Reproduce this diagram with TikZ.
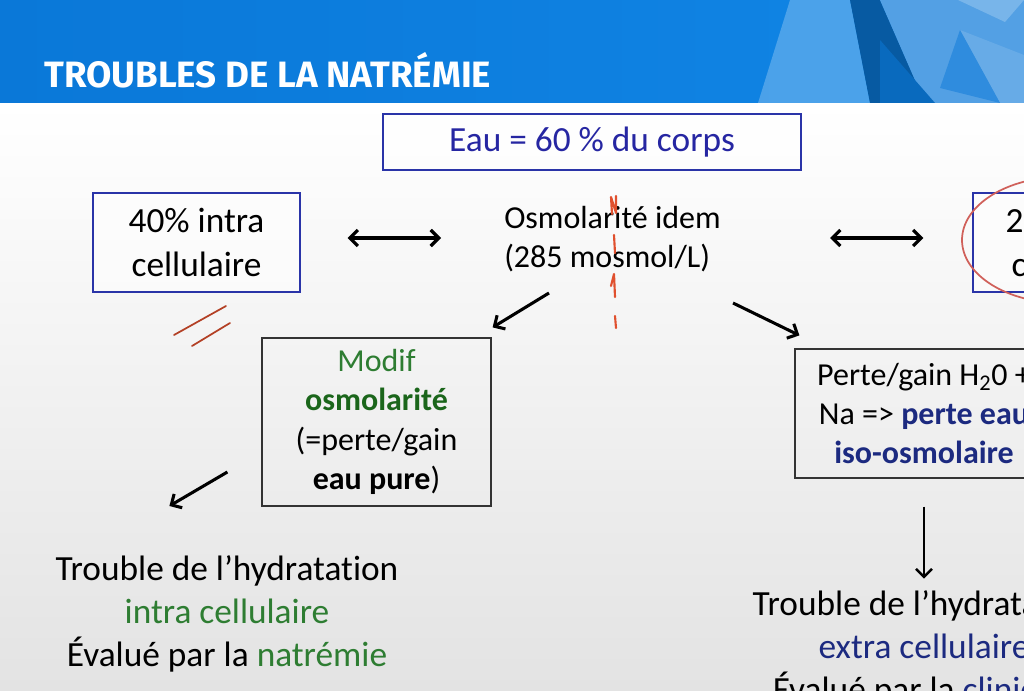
\documentclass[tikz,border=0pt]{standalone}
\usepackage{fontspec}
\setmainfont{Carlito}[Ligatures=NoCommon, Contextuals=NoAlternate]
\newfontfamily\titlefont{Fira Sans}
\usetikzlibrary{arrows.meta,calc,positioning}
\definecolor{headblue}{HTML}{0A78D8}
\definecolor{headblueR}{HTML}{1186E6}
\definecolor{boxblue}{HTML}{2A34A8}
\definecolor{eaublue}{HTML}{2626A2}
\definecolor{navy}{HTML}{1C2A80}
\definecolor{leafgreen}{HTML}{2E7D32}
\definecolor{darkgreen}{HTML}{1B661B}
\definecolor{markred}{HTML}{E0502E}
\definecolor{ovalred}{HTML}{D0605A}
\tikzset{
    bluebox/.style={
        draw=boxblue,
        line width=0.9pt,
        fill=white,
        fill opacity=0.5,
        text opacity=1,
        align=center,
        inner sep=0pt
    },
    greybox/.style={
        draw=black!80,
        line width=0.9pt,
        align=center,
        inner sep=0pt
    },
    plain/.style={
        align=center,
        inner sep=0pt
    },
    arr/.style={
        line width=2.3pt,
        -{Straight Barb[length=6pt, width=12pt]}
    },
    dblarr/.style={
        line width=2.4pt,
        {Straight Barb[length=6pt, width=12pt]}-{Straight Barb[length=6pt, width=12pt]}
    },
    redmark/.style={
        draw=markred,
        line width=1.6pt,
        line cap=round,
        line join=round
    }
}
\newcommand{\bigtxt}{\fontsize{26.5}{32.5}\selectfont}
\newcommand{\midtxt}{\fontsize{24}{29.5}\selectfont}

\begin{document}
\begin{tikzpicture}[x=0.75pt, y=-0.75pt]
    \useasboundingbox (0,0) rectangle (1024,691);
    \clip (0,0) rectangle (1024,691);

    % slide background
    \shade[top color=white, bottom color=black!11] (0,103) rectangle (1024,691);
    \fill[white] (0,103) rectangle (1024,107);
    \shade[left color=headblue, right color=headblueR] (0,0) rectangle (1024,103);
    \fill[white, opacity=0.25] (790,0) -- (850,0) -- (870,103) -- (758,103) -- cycle;
    \fill[black!25!headblue] (850,0) -- (880,0) -- (925,103) -- (870,103) -- cycle;
    \fill[white!30!headblue] (880,0) -- (1024,0) -- (1024,103) -- (925,103) -- cycle;
    \fill[black!12!headblue] (880,40) -- (935,103) -- (880,103) -- cycle;
    \fill[white!45!headblue] (958,0) -- (1005,22) -- (1024,0) -- cycle;
    \fill[white!38!headblue] (960,30) -- (1024,55) -- (1024,103) -- (1000,103) -- cycle;
    \fill[white!15!headblue] (960,30) -- (940,88) -- (1000,103) -- cycle;
    \node[plain, anchor=west, text=white, font=\titlefont\bfseries\fontsize{27.5}{32}\selectfont] (title) at (44,70) {TROUBLES DE LA NATRÉMIE};

    % boxes
    \node[bluebox, minimum width=313.5pt, minimum height=42pt, text=eaublue, font=\bigtxt] (eau) at (592,142) {Eau = 60 \% du corps};
    \node[bluebox, minimum width=155.25pt, minimum height=74.25pt, font=\bigtxt] (intra) at (196.5,242.5) {40\% intra\\cellulaire};
    \node[plain, align=left, anchor=west, font=\midtxt] (osmo) at (504,239) {Osmolarité idem\\(285 mosmol/L)};
    \node[bluebox, minimum width=155.25pt, minimum height=74.25pt, font=\bigtxt] (extra) at (1076.5,242.5) {20\% extra\\cellulaire};
    \node[greybox, minimum width=171.75pt, minimum height=126pt, font=\midtxt] (modif) at (376.5,422) {\textcolor{leafgreen}{Modif}\\\textcolor{darkgreen}{\bfseries osmolarité}\\(=perte/gain\\\textbf{eau pure})};
    \node[greybox, minimum width=193.5pt, minimum height=96.75pt, font=\midtxt] (perte) at (924,413.5) {Perte/gain H\textsubscript{2}0 +\\Na => \textcolor{navy}{\bfseries perte eau}\\\textcolor{navy}{\bfseries iso-osmolaire}};

    % conclusions
    \node[plain, font=\bigtxt] (ic) at (227,614) {Trouble de l’hydratation\\\textcolor{leafgreen}{intra cellulaire}\\Évalué par la \textcolor{leafgreen}{natrémie}};
    \node[plain, font=\bigtxt] (ec) at (924,649) {Trouble de l’hydratation\\\textcolor{navy}{extra cellulaire}\\Évalué par la \textcolor{navy}{clinique}};

    % arrows
    \draw[dblarr] ($(intra.east)+(47,-4.5)$) -- ($(osmo.west)+(-63,-1)$);
    \draw[dblarr] ($(osmo.west)+(326,-1)$) -- ($(extra.west)+(-49,-4.5)$);
    \draw[arr] ($(osmo.west)+(45,54)$) -- ($(modif.north east)+(1,-10)$);
    \draw[arr] ($(osmo.west)+(229,64)$) -- ($(perte.north west)+(5,-13)$);
    \draw[arr] ($(modif.west)+(-34,50)$) -- ($(modif.west)+(-92,84)$);
    \draw[arr, line width=1.8pt] ($(perte.south)+(0,28)$) -- ($(perte.south)+(0,100)$);

    % hand marks
    \draw[redmark] (612,214) -- (611,197) -- (616,213) -- (616,196);
    \draw[redmark] (614,235) -- (615,253);
    \draw[redmark] (611,286) -- (614,274) -- (615,297);
    \draw[redmark] (615,316) -- (616,328);
    \draw[redmark, draw=markred!80!black, line width=1.3pt] (174,335) -- (226,306);
    \draw[redmark, draw=markred!80!black, line width=1.3pt] (192,346) -- (230,323);
    \draw[ovalred, line width=1.3pt] (1062,240) ellipse [x radius=100, y radius=63];
\end{tikzpicture}
\end{document}
